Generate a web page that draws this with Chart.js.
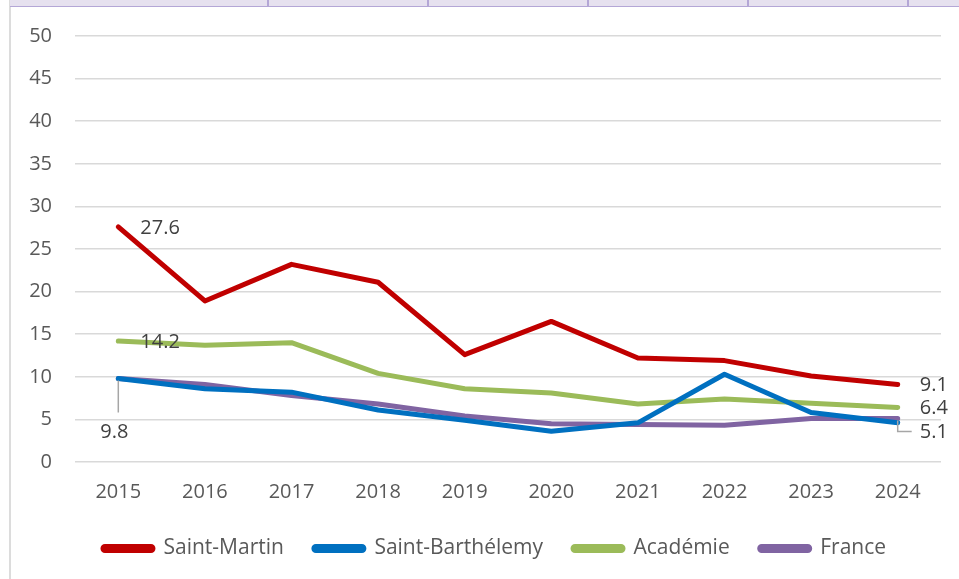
<!DOCTYPE html>
<html lang="fr">
  <head>
    <meta charset="UTF-8" />
    <title>Evolution 2015-2024</title>
    <style>
      * {
        box-sizing: border-box;
        margin: 0;
        padding: 0;
      }
      body {
        width: 959px;
        height: 579px;
        background: #ffffff;
        overflow: hidden;
        position: relative;
        font-family: "Open Sans", Arial, sans-serif;
      }
      #chart {
        position: absolute;
        left: 0;
        top: 0;
      }
      .strip {
        position: absolute;
        left: 10px;
        top: 0;
        width: 949px;
        height: 7px;
        background: #e6e1ef;
        border-bottom: 1px solid #b4a7d6;
      }
      .divider {
        position: absolute;
        top: 0;
        width: 2px;
        height: 7px;
        background: #b4a7d6;
      }
      .left-edge {
        position: absolute;
        left: 9px;
        top: 0;
        width: 2px;
        height: 579px;
        background: #dcdcdc;
      }
    </style>
  </head>
  <body>
    <canvas id="chart" width="959" height="579"></canvas>
    <div class="left-edge"></div>
    <div class="strip"></div>
    <div class="divider" style="left: 267px"></div>
    <div class="divider" style="left: 427px"></div>
    <div class="divider" style="left: 587px"></div>
    <div class="divider" style="left: 747px"></div>
    <div class="divider" style="left: 907px"></div>

    <script src="https://cdn.jsdelivr.net/npm/chart.js"></script>
    <script>
      // data
      const years = ["2015", "2016", "2017", "2018", "2019", "2020", "2021", "2022", "2023", "2024"];
      const saintMartin = [27.6, 18.9, 23.2, 21.1, 12.6, 16.5, 12.2, 11.9, 10.1, 9.1];
      const saintBarthelemy = [9.8, 8.6, 8.2, 6.1, 4.9, 3.6, 4.6, 10.3, 5.8, 4.6];
      const academie = [14.2, 13.7, 14.0, 10.4, 8.6, 8.1, 6.8, 7.4, 6.9, 6.4];
      const france = [9.8, 9.1, 7.8, 6.8, 5.4, 4.5, 4.4, 4.3, 5.1, 5.1];
      const yTicks = [0, 5, 10, 15, 20, 25, 30, 35, 40, 45, 50];

      const textColor = "#595959";
      const labelColor = "#404040";
      const fontFamily = "'Open Sans', Arial, sans-serif";

      // value labels shown on the chart: [dataset, point, text]
      const valueLabels = [
        [0, 0, "27.6"],
        [2, 0, "14.2"],
        [3, 0, "9.8"],
        [0, 9, "9.1"],
        [2, 9, "6.4"],
        [3, 9, "5.1"],
      ];

      const valueLabelPlugin = {
        id: "valueLabels",
        afterDatasetsDraw(chart) {
          const ctx = chart.ctx;
          ctx.save();
          ctx.font = "20px " + fontFamily;
          ctx.fillStyle = labelColor;
          ctx.textBaseline = "middle";
          valueLabels.forEach(([ds, i, text]) => {
            const pt = chart.getDatasetMeta(ds).data[i];
            const last = i === years.length - 1;
            if (ds === 3 && !last) {
              // label below first point with a leader line
              ctx.strokeStyle = "#a6a6a6";
              ctx.lineWidth = 1.5;
              ctx.beginPath();
              ctx.moveTo(pt.x, pt.y + 2);
              ctx.lineTo(pt.x, pt.y + 34);
              ctx.stroke();
              ctx.textAlign = "center";
              ctx.fillText(text, pt.x - 4, pt.y + 54);
            } else if (ds === 3 && last) {
              ctx.strokeStyle = "#a6a6a6";
              ctx.lineWidth = 1.5;
              ctx.beginPath();
              ctx.moveTo(pt.x, pt.y + 2);
              ctx.lineTo(pt.x, pt.y + 13);
              ctx.lineTo(pt.x + 14, pt.y + 13);
              ctx.stroke();
              ctx.textAlign = "left";
              ctx.fillText(text, pt.x + 22, pt.y + 14);
            } else {
              ctx.textAlign = "left";
              ctx.fillText(text, pt.x + 22, pt.y + 1);
            }
          });
          ctx.restore();
        },
      };

      // nudge the legend: a bit up, and centred under the plot rather than the canvas
      const legendShift = {
        id: "legendShift",
        afterLayout(chart) {
          const lg = chart.legend;
          lg.top -= 6;
          lg.bottom -= 6;
          lg.left += 24;
          lg.right += 24;
        },
      };

      function lineSet(label, data, color) {
        return {
          label: label,
          data: data,
          borderColor: color,
          backgroundColor: color,
          borderWidth: 5,
          borderJoinStyle: "round",
          borderCapStyle: "round",
          pointRadius: 0,
          pointHoverRadius: 0,
          tension: 0,
        };
      }

      new Chart(document.getElementById("chart"), {
        type: "line",
        data: {
          labels: years,
          datasets: [
            lineSet("Saint-Martin", saintMartin, "#c00000"),
            lineSet("Saint-Barthélemy", saintBarthelemy, "#0070c0"),
            lineSet("Académie", academie, "#9bbb59"),
            lineSet("France", france, "#8064a2"),
          ],
        },
        options: {
          responsive: false,
          devicePixelRatio: 1,
          animation: false,
          layout: {
            padding: { left: 0, top: 36, right: 18, bottom: 4 },
          },
          plugins: {
            tooltip: { enabled: false },
            legend: {
              position: "bottom",
              labels: {
                boxWidth: 50,
                boxHeight: 4,
                useBorderRadius: true,
                borderRadius: 2,
                padding: 30,
                color: textColor,
                font: { family: fontFamily, size: 21 },
              },
            },
          },
          scales: {
            x: {
              offset: true,
              grid: { display: false },
              border: { display: false },
              ticks: {
                color: textColor,
                padding: 10,
                font: { family: fontFamily, size: 20 },
                maxRotation: 0,
              },
            },
            y: {
              min: 0,
              max: 50,
              afterBuildTicks(scale) {
                scale.ticks = yTicks.map((v) => ({ value: v }));
              },
              afterFit(scale) {
                scale.width = 75;
              },
              grid: { color: "#d9d9d9", lineWidth: 1.5, drawTicks: false },
              border: { display: false },
              ticks: {
                color: textColor,
                padding: 23,
                font: { family: fontFamily, size: 20 },
              },
            },
          },
        },
        plugins: [valueLabelPlugin, legendShift],
      });
    </script>
  </body>
</html>
